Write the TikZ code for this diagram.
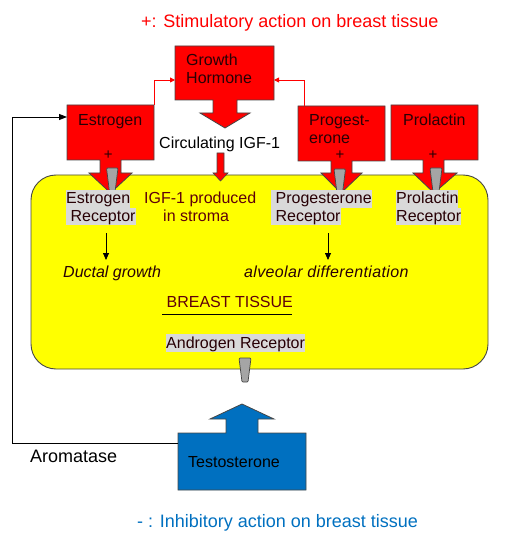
\documentclass[tikz,border=0pt]{standalone}
\usepackage{fontspec}
\setmainfont{Liberation Sans}
\usetikzlibrary{arrows.meta}
\definecolor{hred}{RGB}{255,0,0}
\definecolor{tyellow}{RGB}{255,255,0}
\definecolor{tblue}{RGB}{0,112,192}
\definecolor{edge}{RGB}{70,70,70}
\definecolor{recgrey}{RGB}{165,165,165}
\definecolor{hlgrey}{RGB}{217,217,217}
\definecolor{maroon}{RGB}{95,0,10}
\definecolor{darktext}{RGB}{40,0,5}
\begin{document}
\begin{tikzpicture}[x=1pt,y=-1pt,
  hormone/.style={fill=hred,draw=edge,line width=0.8pt,line join=miter},
  receptorpiece/.style={fill=recgrey,draw=edge,line width=0.7pt,rounded corners=1pt},
  txt/.style={anchor=base west,inner sep=0pt,font=\fontsize{16}{18}\selectfont,text=darktext},
  hl/.style={txt,fill=hlgrey,text height=14pt,text depth=3.5pt},
  plussign/.style={anchor=base,inner sep=0pt,font=\fontsize{15}{16}\selectfont,text=darktext},
  redlink/.style={draw=hred,line width=0.9pt,-{Triangle[width=5pt,length=5pt]}},
  blacklink/.style={draw=black,line width=0.9pt,-{Triangle[width=6pt,length=8pt]}},
  downarrow/.style={draw=black,line width=0.8pt,-{Triangle[width=6pt,length=7pt]}}]
\useasboundingbox (0,0) rectangle (510,537);

% breast tissue
\draw[fill=tyellow,draw=edge,line width=0.9pt,rounded corners=25pt] (31,175) rectangle (488,369);

% Growth hormone callout
\draw[hormone] (175,46) -- (274,46) -- (274,100) -- (237,100) -- (237,113) -- (250,113)
  -- (225,128) -- (200,113) -- (213,113) -- (213,100) -- (175,100) -- cycle;
% Estrogen callout
\draw[hormone] (67,105) -- (154,105) -- (154,160) -- (121,160) -- (121,173) -- (132,173)
  -- (110.5,193) -- (89,173) -- (100,173) -- (100,160) -- (67,160) -- cycle;
% Progesterone callout
\draw[hormone] (298,106) -- (385,106) -- (385,161) -- (352,161) -- (352,173) -- (362,173)
  -- (341,193) -- (321,173) -- (331,173) -- (331,161) -- (298,161) -- cycle;
% Prolactin callout
\draw[hormone] (391,105) -- (478,105) -- (478,160) -- (444,160) -- (444,173) -- (457,173)
  -- (434,193) -- (413,173) -- (423,173) -- (423,160) -- (391,160) -- cycle;
% circulating IGF-1 arrow
\draw[hormone,line width=0.6pt] (217,153) -- (224,153) -- (224,173) -- (228,173) -- (220.5,181)
  -- (213,173) -- (217,173) -- cycle;

% Testosterone
\draw[fill=tblue,draw=edge,line width=0.8pt] (178,433) -- (226,433) -- (226,419) -- (210,419)
  -- (242,404) -- (274,419) -- (258,419) -- (258,433) -- (306,433) -- (306,490) -- (178,490) -- cycle;

% receptor pieces
\draw[receptorpiece] (106.5,168) -- (118,168) -- (115,192) -- (109.5,192) -- cycle;
\draw[receptorpiece] (334,169) -- (345.5,169) -- (342.5,193) -- (337,193) -- cycle;
\draw[receptorpiece] (430,168) -- (442,168) -- (439,192) -- (433,192) -- cycle;
\draw[receptorpiece] (239,358) -- (251,358) -- (248,382) -- (242,382) -- cycle;

% connector anchors
\coordinate (estroTR) at (154,105);
\coordinate (ghL) at (175,80);
\coordinate (progT) at (304,106);
\coordinate (ghR) at (274,80);
\coordinate (testoL) at (178,443);
\coordinate (loop) at (12,443);
\coordinate (estroL) at (67,117);
\draw[redlink] (estroTR) |- (ghL);
\draw[redlink] (progT) |- (ghR);
\draw[blacklink] (testoL) -- (loop) |- (estroL);

% title texts
\node[txt,font=\fontsize{18}{20}\selectfont,text=hred] (title) at (141,28) {+: Stimulatory action on breast tissue};
\node[txt,font=\fontsize{18}{20}\selectfont,text=tblue] (bottom) at (137,527) {- : Inhibitory action on breast tissue};

% hormone labels
\node[txt] (gh1) at (186,66) {Growth};
\node[txt] (gh2) at (186,84) {Hormone};
\node[txt] (estro) at (78,126) {Estrogen};
\node[txt] (prog1) at (309,126) {Progest-};
\node[txt] (prog2) at (309,144) {erone};
\node[txt] (prol) at (403,126) {Prolactin};
\node[plussign] (p1) at (108.3,160) {+};
\node[plussign] (p2) at (340,159.2) {+};
\node[plussign] (p3) at (433,160) {+};
\node[txt,text=black] (circ) at (159,149) {Circulating IGF-1};

% receptors
\node[hl] (er1) at (66,204) {Estrogen};
\node[hl] (er2) at (66,221.5) {\ Receptor};
\node[hl] (pr1) at (271,204) {\ Progesterone};
\node[hl] (pr2) at (271,221.5) {\ Receptor\ };
\node[hl] (plr1) at (396,204) {Prolactin};
\node[hl] (plr2) at (396,221.5) {Receptor};
\node[hl] (ar) at (166,348) {Androgen Receptor};
\node[txt,text=maroon] (igf1) at (144,204) {IGF-1 produced};
\node[txt,text=maroon] (igf2) at (163,221.5) {in stroma};

% effects
\coordinate (erdown) at (106,233);
\coordinate (duct) at (106,260);
\coordinate (prdown) at (328,233);
\coordinate (alv) at (328,260);
\draw[downarrow] (erdown) -- (duct);
\draw[downarrow] (prdown) -- (alv);
\node[txt,font=\fontsize{16}{18}\itshape] (ductal) at (63,277.5) {Ductal growth};
\node[txt,font=\fontsize{16}{18}\itshape\addfontfeature{LetterSpace=2.2}] (alveolar) at (244,277.5) {alveolar differentiation};

\node[txt,text=maroon] (bt) at (162,307.5) {\ BREAST TISSUE};
\coordinate (btl) at (162,314);
\coordinate (btr) at (292,314);
\draw[black,line width=0.8pt] (btl) -- (btr);

\node[txt,font=\fontsize{18}{20}\selectfont,text=black] (arom) at (30,462.5) {Aromatase};
\node[txt,text=black] (testo) at (188,467) {Testosterone};
\end{tikzpicture}
\end{document}
